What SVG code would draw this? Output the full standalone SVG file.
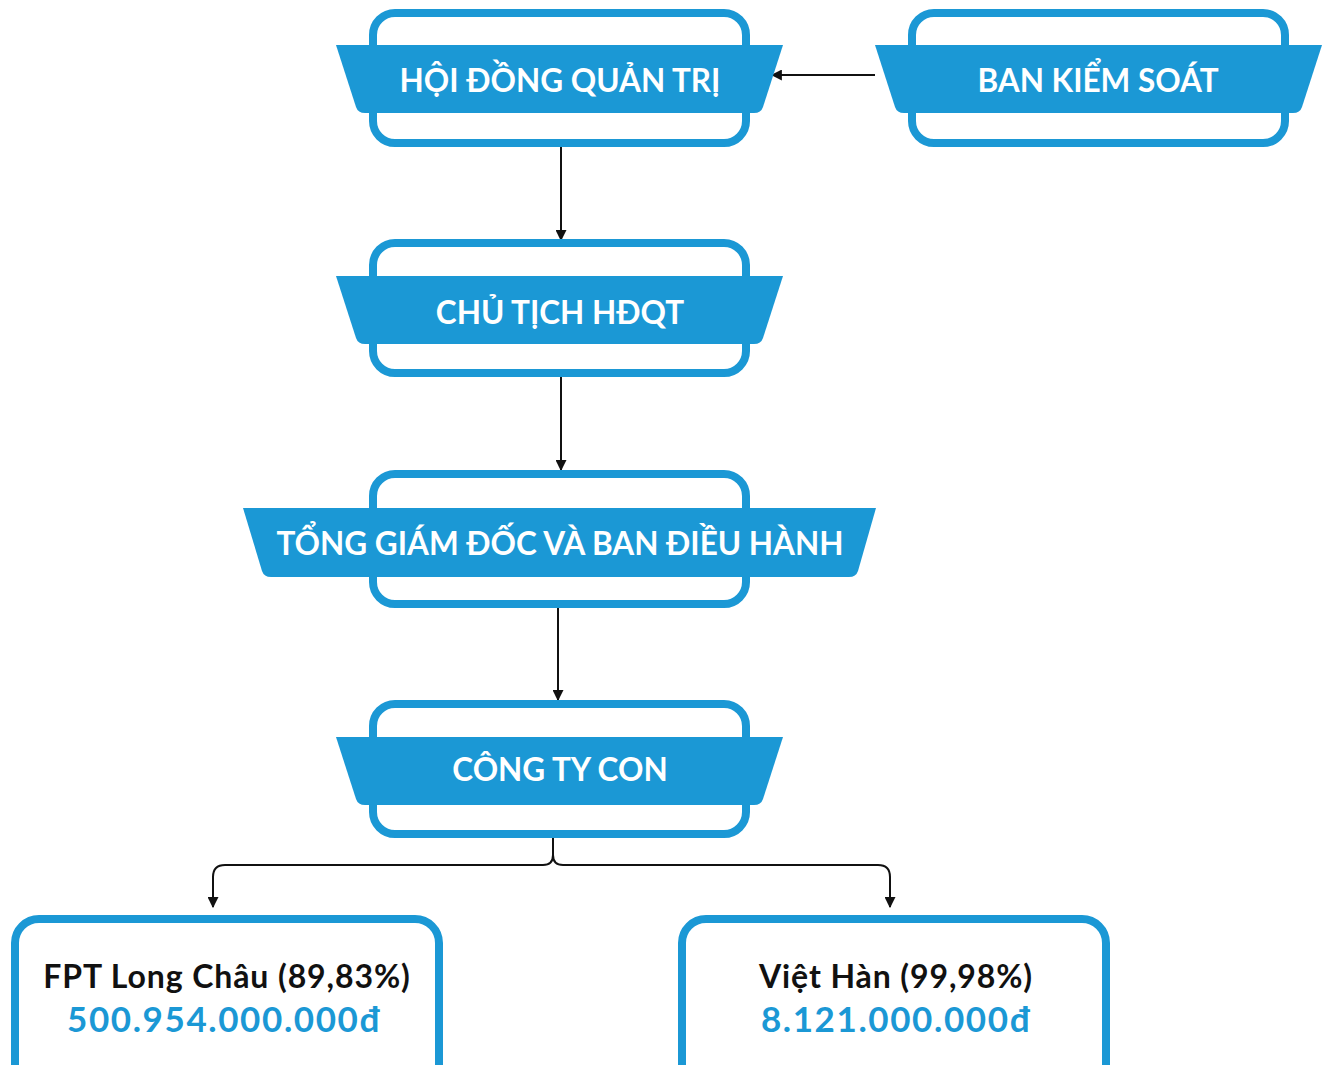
<svg xmlns="http://www.w3.org/2000/svg" width="1329" height="1065" viewBox="0 0 1329 1065">
<defs>
<style>
.frame{fill:#fff;stroke:#1b98d5;stroke-width:8}
.band{fill:#1b98d5}
.bt{font-family:Lato,"Noto Sans",sans-serif;font-weight:700;font-size:31.5px;fill:#fff;text-anchor:middle;dominant-baseline:central}
.nm{font-family:Lato,"Noto Sans",sans-serif;font-weight:700;font-size:32px;letter-spacing:0.9px;fill:#111;text-anchor:middle;dominant-baseline:central}
.val{font-family:Lato,"Noto Sans",sans-serif;font-weight:700;font-size:35px;letter-spacing:1.6px;fill:#1b98d5;text-anchor:middle;dominant-baseline:central}
.ln{fill:none;stroke:#111;stroke-width:2}
</style>
<marker id="ah" viewBox="0 0 10 10" refX="9" refY="5" markerWidth="11" markerHeight="11" markerUnits="userSpaceOnUse" orient="auto">
<path d="M0,0 L10,5 L0,10 Z" fill="#111"/>
</marker>
</defs>
<rect width="1329" height="1065" fill="#fff"/>
<g id="connectors">
<line class="ln" x1="875" y1="75" x2="772" y2="75" marker-end="url(#ah)"/>
<line class="ln" x1="561" y1="147" x2="561" y2="240" marker-end="url(#ah)"/>
<line class="ln" x1="561" y1="377" x2="561" y2="470" marker-end="url(#ah)"/>
<line class="ln" x1="558" y1="607" x2="558" y2="700" marker-end="url(#ah)"/>
<path class="ln" d="M553,837 L553,855 Q553,865 543,865 L225,865 Q213,865 213,877 L213,907" marker-end="url(#ah)"/>
<path class="ln" d="M553,855 Q553,865 563,865 L878,865 Q890,865 890,877 L890,907" marker-end="url(#ah)"/>
</g>
<g id="hdqt">
<rect class="frame" x="373" y="13" width="373" height="130" rx="22"/>
<path class="band" d="M336,45 L783,45 L763,107 Q761,113 754,113 L365,113 Q358,113 356,107 Z"/>
<text class="bt" x="560" y="80">HỘI ĐỒNG QUẢN TRỊ</text>
</g>
<g id="bks">
<rect class="frame" x="912" y="13" width="373" height="130" rx="22"/>
<path class="band" d="M875,45 L1322,45 L1302,107 Q1300,113 1293,113 L904,113 Q897,113 895,107 Z"/>
<text class="bt" x="1098" y="80">BAN KIỂM SOÁT</text>
</g>
<g id="chutich">
<rect class="frame" x="373" y="243" width="373" height="130" rx="22"/>
<path class="band" d="M336,276 L783,276 L763,338 Q761,344 754,344 L365,344 Q358,344 356,338 Z"/>
<text class="bt" x="560" y="312">CHỦ TỊCH HĐQT</text>
</g>
<g id="tgd">
<rect class="frame" x="373" y="474" width="373" height="130" rx="22"/>
<path class="band" d="M243,508 L876,508 L858,571 Q856,577 849,577 L271,577 Q264,577 262,571 Z"/>
<text class="bt" x="560" y="543">TỔNG GIÁM ĐỐC VÀ BAN ĐIỀU HÀNH</text>
</g>
<g id="congtycon">
<rect class="frame" x="373" y="704" width="373" height="130" rx="22"/>
<path class="band" d="M336,737 L783,737 L763,799 Q761,805 754,805 L365,805 Q358,805 356,799 Z"/>
<text class="bt" x="560" y="769">CÔNG TY CON</text>
</g>
<g id="longchau">
<rect class="frame" x="15" y="919" width="424" height="170" rx="24"/>
<text class="nm" x="227" y="975">FPT Long Châu (89,83%)</text>
<text class="val" x="224" y="1018">500.954.000.000đ</text>
</g>
<g id="viethan">
<rect class="frame" x="682" y="919" width="424" height="170" rx="24"/>
<text class="nm" x="896" y="975">Việt Hàn (99,98%)</text>
<text class="val" x="896" y="1018">8.121.000.000đ</text>
</g>
</svg>
